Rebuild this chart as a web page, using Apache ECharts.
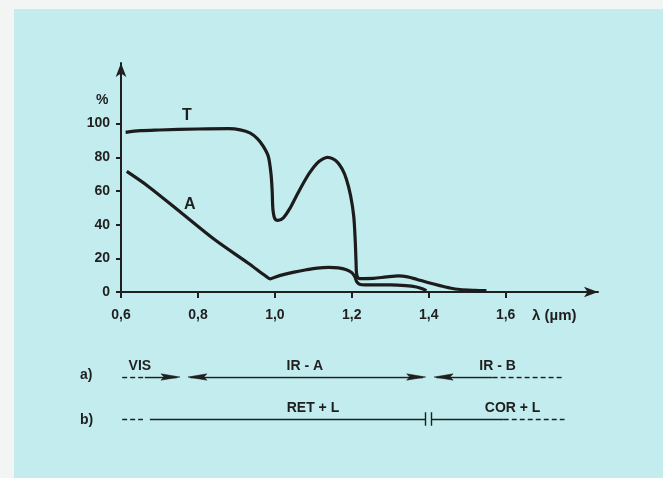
<!DOCTYPE html>
<html>
<head>
<meta charset="utf-8">
<script src="https://cdn.jsdelivr.net/npm/echarts@6/dist/echarts.min.js"></script>
<style>
html,body{margin:0;padding:0;background:#f3f5f4;}
#c{width:663px;height:478px;}
</style>
</head>
<body>
<div id="c"></div>
<script>
// ---- data ----
const xTicks = [0.6, 0.8, 1.0, 1.2, 1.4, 1.6];
const yTicks = [0, 20, 40, 60, 80, 100];
const tCurve = [[0.612,94.8],[0.65,95.8],[0.70,96.2],[0.80,96.8],[0.88,97.0],[0.91,96.3],[0.935,94.5],[0.955,91],[0.970,86.5],[0.983,80.5],[0.990,70],[0.993,60],[0.995,49],[1.000,43.5],[1.008,42.5],[1.022,44],[1.04,50],[1.056,57],[1.075,65],[1.091,71],[1.11,76.5],[1.125,79],[1.137,80],[1.150,79.2],[1.163,77],[1.175,73],[1.186,67],[1.197,57],[1.205,45],[1.209,30],[1.211,18],[1.213,10],[1.22,8],[1.256,8.1],[1.29,9],[1.322,9.6],[1.345,9],[1.368,7.6],[1.40,5.5],[1.429,3.8],[1.455,2.4],[1.481,1.5],[1.52,1.0],[1.55,0.8]];
const aCurve = [[0.615,71.6],[0.671,62.7],[0.758,46.8],[0.844,31.0],[0.931,17.1],[0.965,11.3],[0.978,9.1],[0.988,7.8],[1.00,8.8],[1.022,10.3],[1.05,11.8],[1.082,13.2],[1.11,14.2],[1.14,14.6],[1.165,14.3],[1.186,13.2],[1.200,11.5],[1.208,9],[1.213,6],[1.22,4.6],[1.234,4.2],[1.30,4.2],[1.34,3.8],[1.368,3],[1.385,1.8],[1.394,0.8]];
const curveNames = ['T', 'A'];
const curveLabelPos = [[0.771, 104.8], [0.779, 51.8]];
// annotation bands (µm), row a = 1, row b = 0
const visDash = [0.603, 0.662];
const visLine = [0.662, 0.745];
const irALine = [0.780, 1.385];
const irBLine = [1.420, 1.566];
const irBDash = [1.566, 1.753];
const arrowTips = [[0.7533, 1, 1], [0.774, 1, -1], [1.392, 1, 1], [1.414, 1, -1]];
const bDash1 = [0.603, 0.657];
const retL = [0.675, 1.392];
const breakX = [1.392, 1.407];
const corL = [1.407, 1.595];
const bDash2 = [1.595, 1.753];
const bandNames = ['VIS', 'IR - A', 'IR - B', 'RET + L', 'COR + L'];
const bandNameX = [0.649, 1.078, 1.579, 1.099, 1.618];
const bandRow = [1, 1, 1, 0, 0];

const ink = '#1f1f1f';
const font = 'Liberation Sans, Arial, sans-serif';
const fmt = v => v.toFixed(1).replace('.', ',');

const chart = echarts.init(document.getElementById('c'));

const seg = (r, row) => ({ coords: [[r[0], row], [r[1], row]] });
const labelBase = { color: ink, fontWeight: 'bold', fontFamily: font };

function textItem(size, vAlign, dy) {
  return function (params, api) {
    const p = api.coord([api.value(0), api.value(1)]);
    return {
      type: 'text', x: p[0], y: p[1] + dy,
      style: { text: api.value(2), fill: ink, font: 'bold ' + size + 'px ' + font, align: 'center', verticalAlign: vAlign }
    };
  };
}

chart.setOption({
  backgroundColor: '#f3f5f4',
  animation: false,
  graphic: [
    { type: 'rect', z: -10, shape: { x: 14, y: 9, width: 649, height: 469 }, style: { fill: '#c3ecee' } },
    { type: 'text', left: 96, top: 93, style: { text: '%', font: 'bold 14px ' + font, fill: ink } },
    { type: 'text', left: 532, top: 308, style: { text: 'λ (µm)', font: 'bold 15px ' + font, fill: ink } },
    { type: 'text', left: 80, top: 368, style: { text: 'a)', font: 'bold 14px ' + font, fill: ink } },
    { type: 'text', left: 80, top: 413, style: { text: 'b)', font: 'bold 14px ' + font, fill: ink } }
  ],
  grid: [
    { left: 121, right: 65, top: 63, bottom: 186 },
    { left: 121, right: 65, top: 377, bottom: 38 }
  ],
  xAxis: [
    {
      type: 'value', gridIndex: 0, min: 0.6, max: 1.84, interval: 0.2,
      splitLine: { show: false },
      axisLine: { lineStyle: { color: ink, width: 2 }, symbol: ['none', 'arrow'], symbolSize: [8, 14] },
      axisTick: { customValues: xTicks, length: 6, lineStyle: { color: ink, width: 2 } },
      axisLabel: Object.assign({ customValues: xTicks, formatter: fmt, margin: 16, fontSize: 14 }, labelBase)
    },
    { type: 'value', gridIndex: 1, min: 0.6, max: 1.84, show: false }
  ],
  yAxis: [
    {
      type: 'value', gridIndex: 0, min: 0, max: 136, interval: 20,
      splitLine: { show: false },
      axisLine: { show: true, lineStyle: { color: ink, width: 2 }, symbol: ['none', 'arrow'], symbolSize: [8, 14] },
      axisTick: { show: true, customValues: yTicks, length: 5, lineStyle: { color: ink, width: 2 } },
      axisLabel: Object.assign({ customValues: yTicks, margin: 11, fontSize: 14 }, labelBase)
    },
    { type: 'value', gridIndex: 1, min: -0.5, max: 1, show: false }
  ],
  series: [
    {
      type: 'line', name: curveNames[0], data: tCurve, xAxisIndex: 0, yAxisIndex: 0,
      showSymbol: false, smooth: 0.3, lineStyle: { color: '#1c1c1c', width: 3.2 }
    },
    {
      type: 'line', name: curveNames[1], data: aCurve, xAxisIndex: 0, yAxisIndex: 0,
      showSymbol: false, smooth: 0.3, lineStyle: { color: '#1c1c1c', width: 3.2 }
    },
    {
      type: 'custom', coordinateSystem: 'cartesian2d', xAxisIndex: 0, yAxisIndex: 0,
      data: curveLabelPos.map((p, i) => [p[0], p[1], curveNames[i]]),
      encode: { x: 0, y: 1 },
      renderItem: textItem(16, 'middle', 0)
    },
    // solid band lines
    {
      type: 'lines', coordinateSystem: 'cartesian2d', xAxisIndex: 1, yAxisIndex: 1,
      symbol: 'none', lineStyle: { color: ink, width: 1.4, opacity: 1 },
      data: [seg(visLine, 1), seg(irALine, 1), seg(irBLine, 1), seg(retL, 0), seg(corL, 0),
        { coords: [[breakX[0], -0.16], [breakX[0], 0.16]] },
        { coords: [[breakX[1], -0.16], [breakX[1], 0.16]] }]
    },
    // dashed band lines
    {
      type: 'lines', coordinateSystem: 'cartesian2d', xAxisIndex: 1, yAxisIndex: 1,
      symbol: 'none', lineStyle: { color: ink, width: 1.4, opacity: 1, type: [5, 3] },
      data: [seg(visDash, 1), seg(irBDash, 1), seg(bDash1, 0), seg(bDash2, 0)]
    },
    // arrow heads
    {
      type: 'custom', coordinateSystem: 'cartesian2d', xAxisIndex: 1, yAxisIndex: 1,
      data: arrowTips, encode: { x: 0, y: 1 },
      renderItem: function (params, api) {
        const p = api.coord([api.value(0), api.value(1)]);
        const d = api.value(2);
        const L = 19, W = 3.2;
        return {
          type: 'polygon',
          shape: { points: [[p[0], p[1]], [p[0] - d * L, p[1] - W], [p[0] - d * (L - 3), p[1]], [p[0] - d * L, p[1] + W]] },
          style: { fill: ink, stroke: ink, lineWidth: 0.5 }
        };
      }
    },
    {
      type: 'custom', coordinateSystem: 'cartesian2d', xAxisIndex: 1, yAxisIndex: 1,
      data: bandNames.map((n, i) => [bandNameX[i], bandRow[i], n]),
      encode: { x: 0, y: 1 },
      renderItem: textItem(14, 'bottom', -4)
    }
  ]
});
</script>
</body>
</html>
